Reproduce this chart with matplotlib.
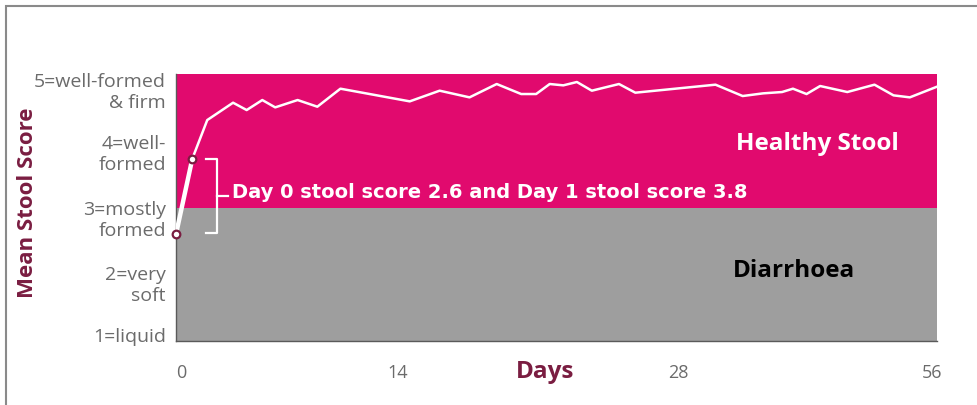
import matplotlib
matplotlib.use("Agg")
import matplotlib.pyplot as plt
import matplotlib.transforms as mtransforms
from matplotlib.patches import Rectangle

plt.rcParams["font.family"] = ["Open Sans", "DejaVu Sans"]

# ── data ────────────────────────────────────────────────
days = [0, 1.2, 2.3, 4.2, 5.2, 6.35, 7.3, 8.95, 10.4, 12.1, 17.2, 19.4,
        21.6, 23.6, 25.4, 26.5, 27.5, 28.5, 29.5, 30.6, 32.6, 33.8, 39.7,
        41.7, 43.2, 44.6, 45.4, 46.4, 47.4, 49.4, 51.4, 52.8, 54.0, 56]
score = [2.6, 3.73, 4.31, 4.57, 4.46, 4.61, 4.50, 4.61, 4.51, 4.78, 4.59,
         4.75, 4.65, 4.85, 4.70, 4.70, 4.85, 4.83, 4.88, 4.75, 4.85, 4.72,
         4.84, 4.67, 4.71, 4.73, 4.78, 4.70, 4.82, 4.73, 4.84, 4.68, 4.65,
         4.81]

y_ticks = [1, 2, 3, 4, 5]
y_labels = ["1=liquid", "2=very\nsoft", "3=mostly\nformed",
            "4=well-\nformed", "5=well-formed\n& firm"]
x_tick_labels = ["0", "14", "28", "56"]
x_tick_pos = [0.4, 16.3, 37.0, 55.6]   # where the labels sit in the reference

healthy_from = 3.0

PINK = "#E10A6E"
GREY = "#9E9E9E"
MAROON = "#7A1D41"
TXT = "#6B6B6B"

fig = plt.figure(figsize=(9.78, 4.06), dpi=100)
ax = fig.add_axes([176 / 978, 64 / 406, 761 / 978, 267 / 406])

ax.set_xlim(days[0], days[-1])
ax.set_ylim(1, 5)

# zones
ax.axhspan(1, healthy_from, color=GREY, lw=0, zorder=0)
ax.axhspan(healthy_from, 5, color=PINK, lw=0, zorder=0)

# line
ax.plot(days[1:], score[1:], color="white", lw=1.8, zorder=3)
ax.plot(days[:2], score[:2], color="white", lw=3.2, zorder=3,
        solid_capstyle="butt")
ax.plot(days[:2], score[:2], ls="none", marker="o", ms=5.5,
        mfc="white", mec=MAROON, mew=1.6, zorder=5, clip_on=False)

# bracket between day 0 and day 1 scores
b_left, b_mid, b_tip = 2.2, 3.0, 3.8
ax.plot([b_left, b_mid, b_mid, b_left],
        [score[1], score[1], score[0] + 0.02, score[0] + 0.02],
        color="white", lw=1.6, zorder=4)
b_c = (score[0] + score[1]) / 2
ax.plot([b_mid, b_tip], [b_c, b_c], color="white", lw=1.6, zorder=4)
ax.text(4.15, b_c + 0.08, "Day 0 stool score 2.6 and Day 1 stool score 3.8",
        color="white", fontsize=14, fontweight="bold", va="center",
        ha="left", zorder=6, family="DejaVu Sans")

ax.text(47.2, 3.97, "Healthy Stool", color="white", fontsize=17.5,
        fontweight="bold", ha="center", va="center")
ax.text(45.5, 2.07, "Diarrhoea", color="black", fontsize=17.5,
        fontweight="bold", ha="center", va="center")

# spines
for s in ["top", "right"]:
    ax.spines[s].set_visible(False)
for s in ["left", "bottom"]:
    ax.spines[s].set_color("#5A5A5A")
    ax.spines[s].set_linewidth(1.0)

# y labels (first line roughly at the tick)
ax.set_yticks(y_ticks)
ax.set_yticklabels([])
ax.tick_params(axis="y", length=0)
lift_px = [-4, 9, 7, 7, 2]
blend = mtransforms.blended_transform_factory(ax.transAxes, ax.transData)
for yv, lab, up in zip(y_ticks, y_labels, lift_px):
    tr = blend + mtransforms.ScaledTranslation(-10 / 100, up / 100,
                                               fig.dpi_scale_trans)
    ax.text(0, yv, lab, transform=tr, ha="right",
            va="bottom" if yv == 1 else "top", ma="right",
            fontsize=14, color=TXT, linespacing=1.2)

# x ticks
ax.set_xticks(x_tick_pos)
ax.set_xticklabels(x_tick_labels, fontsize=13, color=TXT)
ax.tick_params(axis="x", length=0, pad=16)

ax.text(0.485, -0.112, "Days", transform=ax.transAxes, color=MAROON,
        fontsize=17.5, fontweight="bold", ha="center", va="center")
fig.text(28 / 978, 1 - 203 / 406, "Mean Stool Score", rotation=90,
         color=MAROON, fontsize=16, fontweight="bold", ha="center",
         va="center")

# outer frame
fig.patches.append(Rectangle((6 / 978, -0.1), 1.2, 1.1 - 7 / 406,
                             transform=fig.transFigure, fill=False,
                             edgecolor="#8A8A8A", lw=1.5))

fig.savefig("out.png", dpi=100)
